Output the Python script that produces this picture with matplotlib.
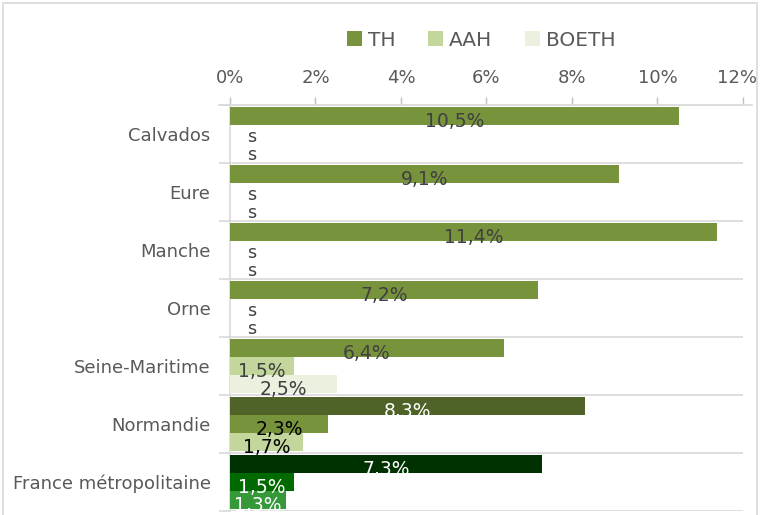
import matplotlib
matplotlib.use("Agg")
import matplotlib.pyplot as plt
import matplotlib.transforms as mtransforms
from matplotlib.patches import Rectangle, Patch
import numpy as np

categories = ["Calvados", "Eure", "Manche", "Orne", "Seine-Maritime",
              "Normandie", "France métropolitaine"]
series = ["TH", "AAH", "BOETH"]
th = [10.5, 9.1, 11.4, 7.2, 6.4, 8.3, 7.3]
aah = [np.nan, np.nan, np.nan, np.nan, 1.5, 2.3, 1.5]
boeth = [np.nan, np.nan, np.nan, np.nan, 2.5, 1.7, 1.3]
xticks = [0, 2, 4, 6, 8, 10, 12]

legend_colors = ["#77933C", "#C3D69B", "#EBF1DE"]
# per-category colours (TH, AAH, BOETH)
bar_colors = [legend_colors] * 5 + [["#4F6228", "#77933C", "#C3D69B"],
                                     ["#003100", "#006A00", "#35993A"]]
label_colors = [["#404040"] * 3] * 5 + [["white", "black", "black"],
                                         ["white", "white", "white"]]

plt.rcParams["font.family"] = ["DejaVu Sans"]

fig = plt.figure(figsize=(7.6, 5.15), dpi=100)
fig.patches.append(Rectangle((0.004, -0.05), 0.992, 1.044, transform=fig.transFigure,
                             fill=False, edgecolor="#D9D9D9", linewidth=1.2))
ax = fig.add_axes([0.3026, 0.008, 0.675, 0.788])

n = len(categories)
y = np.arange(n)
h = 0.315
vals = [th, aah, boeth]
for si in range(3):
    for ci in range(n):
        yc = ci + (si - 1) * h
        v = vals[si][ci]
        if np.isnan(v):
            ax.annotate("s", xy=(0, yc), xytext=(15.5, -2), textcoords="offset points",
                        ha="center", va="center", fontsize=12.5, color="#404040")
            continue
        ax.barh(yc, v, height=h, color=bar_colors[ci][si], edgecolor="none", zorder=3)
        txt = f"{v:.1f}".replace(".", ",") + "%"
        ax.annotate(txt, xy=(v / 2, yc), xytext=(0, -4), textcoords="offset points",
                    ha="center", va="center", fontsize=13.5, color=label_colors[ci][si],
                    zorder=4)

ax.set_xlim(0, 12)
ax.set_ylim(n - 0.5, -0.5)
ax.xaxis.tick_top()
ax.set_xticks(xticks)
ax.set_xticklabels([f"{t}%" for t in xticks], fontsize=13, color="#595959")
ax.tick_params(axis="x", length=6, color="#BFBFBF", pad=7, width=1)
last = ax.get_xticklabels()[-1]
last.set_transform(last.get_transform() +
                   mtransforms.ScaledTranslation(-6 / 100, 0, fig.dpi_scale_trans))
ax.set_yticks(y)
ax.set_yticklabels(categories, fontsize=13, color="#595959")
ax.tick_params(axis="y", length=0, pad=14)
ax.set_yticks(np.arange(-0.5, n, 1), minor=True)
ax.tick_params(axis="y", which="minor", length=8, color="#D9D9D9", width=1.2)
ax.grid(axis="y", which="minor", color="#D9D9D9", linewidth=1.2, zorder=0)
for s in ["right", "bottom"]:
    ax.spines[s].set_visible(False)
ax.spines["top"].set_color("#D9D9D9")
ax.spines["left"].set_color("#D9D9D9")
ax.spines["top"].set_linewidth(1.2)
ax.spines["left"].set_linewidth(1.2)
ax.spines["top"].set_bounds(-0.25, 12.2)

handles = [Patch(facecolor=c, edgecolor="none") for c in legend_colors]
fig.legend(handles, series, loc="center", bbox_to_anchor=(0.633, 0.922), ncol=3,
           frameon=False, fontsize=14.5, labelcolor="#595959", handlelength=0.75,
           handleheight=0.75, handletextpad=0.3, columnspacing=1.6)

fig.savefig("out.png", dpi=100)
